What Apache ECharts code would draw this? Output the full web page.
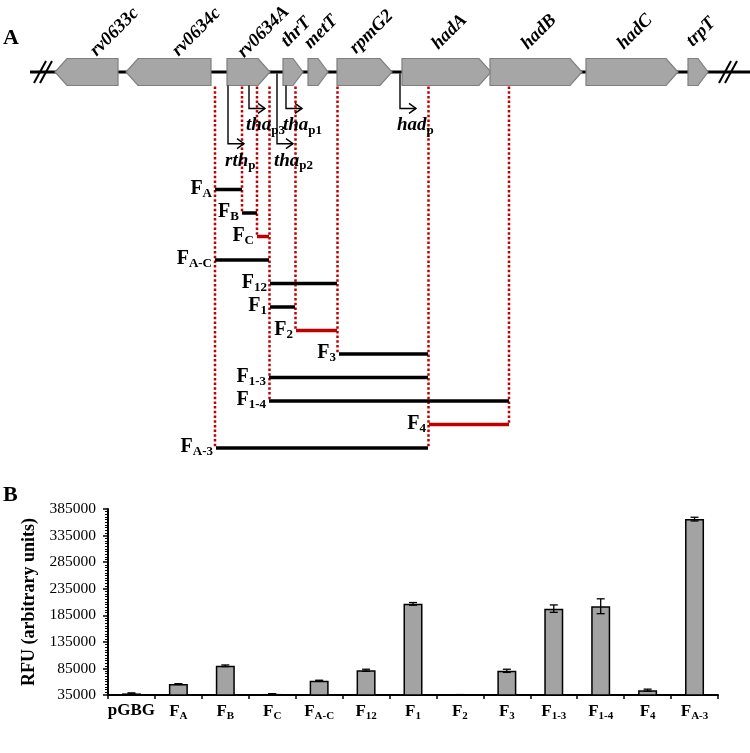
<!DOCTYPE html>
<html><head><meta charset="utf-8">
<script src="https://cdn.jsdelivr.net/npm/echarts@6/dist/echarts.min.js"></script>
<style>html,body{margin:0;padding:0;background:#fff}#c{width:750px;height:753px}</style>
</head><body><div id="c"></div>
<script>
const SERIF = "'Liberation Serif','Times New Roman',Times,serif";

// ---------- Panel A: locus map ----------
const geneNames  = ['rv0633c','rv0634c','rv0634A','thrT','metT','rpmG2','hadA','hadB','hadC','trpT'];
const geneStart  = [55,126,227,283,308,337,402,490,586,688];
const geneEnd    = [118,211,270,303,328,392,491,582,678,708];
const geneStrand = [-1,-1,1,1,1,1,1,1,1,1];
const TRACK = -5;
const locusSpan = [30, 750];
const breakPoints = [43, 728];

const promoterNames = ['rth','tha','tha','tha','had'];
const promoterSubs  = ['p','p3','p2','p1','p'];
const promoterPos   = [228,249,277,286,400];
const promoterLevel = [-1.95,-3.45,-1.95,-3.45,-3.45];
const promoterFromGene = [1,1,0,1,0];

const fragSub   = ['A','B','C','A-C','12','1','2','3','1-3','1-4','4','A-3'];
const fragStart = [215,242,257,215,270,270,296,339,269,269,429,216];
const fragEnd   = [242,257,269,269,337,295,337,428,428,509,509,428];
const fragRow   = [0,1,2,3,4,5,6,7,8,9,10,11];
const fragInactive = [0,0,1,0,0,0,1,0,0,0,1,0];

const boundaryPos = [215,242,257,269.5,295.5,337.5,428.5,509];
const boundaryRow = [11,1,2,9,6,7,11,10];

// ---------- Panel B: RFU bars ----------
const barMain = ['pGBG','F','F','F','F','F','F','F','F','F','F','F','F'];
const barSub  = ['','A','B','C','A-C','12','1','2','3','1-3','1-4','4','A-3'];
const rfuMean = [38000,55500,90000,37000,62000,81500,206500,35500,80500,197500,202000,44000,366000];
const rfuErr  = [1000,800,1500,500,800,2000,2500,300,3000,7000,14000,2000,3500];
const yMin = 35000, yMax = 385000, yStep = 50000;

const RED = '#c00000';
const HALF = 13.5;
const ROT = 45*Math.PI/180;

const chart = echarts.init(document.getElementById('c'));

const subRich = (mainSize, subSize, italic) => ({
  m: {fontSize: mainSize, fontWeight: 'bold', fontStyle: italic ? 'italic' : 'normal', fontFamily: SERIF, fill: '#000', color:'#000'},
  s: {fontSize: subSize, fontWeight: 'bold', fontFamily: SERIF, fill: '#000', color:'#000', padding: [Math.round(subSize*0.8),0,0,0]}
});

const option = {
  animation: false,
  backgroundColor: '#fff',
  graphic: [
    {type:'text', left:3, top:27, style:{text:'A', font:'bold 22px '+SERIF, fill:'#000'}},
    {type:'text', left:3, top:484, style:{text:'B', font:'bold 22px '+SERIF, fill:'#000'}}
  ],
  grid: [
    {left:0, width:750, top:48.5, height:423},
    {left:108, width:610, top:509, height:186}
  ],
  xAxis: [
    {gridIndex:0, type:'value', min:0, max:750, show:false},
    {gridIndex:1, type:'category', data: barMain.map((m,i)=>m+barSub[i]),
      axisLine:{lineStyle:{color:'#000', width:2}},
      axisTick:{show:true, length:4, lineStyle:{color:'#000', width:1.5}},
      axisLabel:{interval:0, margin:7, color:'#000',
        formatter:(v, i)=> barSub[i] ? '{m|'+barMain[i]+'}{s|'+barSub[i]+'}' : '{m|'+barMain[i]+'}',
        rich:{
          m:{fontSize:17, fontWeight:'bold', fontFamily:SERIF, color:'#000'},
          s:{fontSize:11, fontWeight:'bold', fontFamily:SERIF, color:'#000', padding:[9,0,0,0]}
        }}
    }
  ],
  yAxis: [
    {gridIndex:0, type:'value', min:-6, max:12, inverse:true, show:false},
    {gridIndex:1, type:'value', min:yMin, max:yMax, interval:yStep,
      axisLine:{show:true, lineStyle:{color:'#000', width:2}},
      axisTick:{show:true, length:5, lineStyle:{color:'#000', width:1.5}},
      minorTick:{show:true, splitNumber:10, length:3, lineStyle:{color:'#000', width:1}},
      splitLine:{show:false},
      axisLabel:{color:'#000', fontSize:15.5, fontFamily:SERIF, margin:12, formatter:v=>String(v)},
      name:'RFU (arbitrary units)', nameLocation:'middle', nameGap:60,
      nameTextStyle:{color:'#000', fontSize:18, fontWeight:'bold', fontFamily:SERIF}
    }
  ],
  series: [
    // backbone
    {type:'custom', xAxisIndex:0, yAxisIndex:0, data:[[locusSpan[0], locusSpan[1]]], silent:true, z:1, clip:false,
      renderItem:(p, api)=>{
        const a = api.coord([api.value(0), TRACK]), b = api.coord([api.value(1), TRACK]);
        return {type:'line', shape:{x1:a[0], y1:a[1], x2:b[0], y2:b[1]}, style:{stroke:'#000', lineWidth:3}};
      }},
    // break marks
    {type:'custom', xAxisIndex:0, yAxisIndex:0, data: breakPoints.map(x=>[x]), silent:true, z:3, clip:false,
      renderItem:(p, api)=>{
        const c = api.coord([api.value(0), TRACK]);
        const mk = dx => ({type:'line', shape:{x1:c[0]+dx-6, y1:c[1]+11, x2:c[0]+dx+6, y2:c[1]-11}, style:{stroke:'#000', lineWidth:2}});
        return {type:'group', children:[mk(-3), mk(3)]};
      }},
    // genes
    {type:'custom', xAxisIndex:0, yAxisIndex:0, silent:true, z:2, clip:false,
      data: geneNames.map((n,i)=>[geneStart[i], geneEnd[i], geneStrand[i]]),
      renderItem:(p, api)=>{
        const a = api.coord([api.value(0), TRACK]), b = api.coord([api.value(1), TRACK]);
        const x0 = a[0], x1 = b[0], y = a[1], dir = api.value(2);
        const head = Math.min(12, (x1-x0)*0.5);
        const pts = dir > 0
          ? [[x0,y-HALF],[x1-head,y-HALF],[x1,y],[x1-head,y+HALF],[x0,y+HALF]]
          : [[x1,y-HALF],[x0+head,y-HALF],[x0,y],[x0+head,y+HALF],[x1,y+HALF]];
        const cx = (x0+x1)/2;
        const name = geneNames[p.dataIndex];
        const lx = cx + (dir < 0 ? 28 : 3 + (name.length-4)*4);
        return {type:'group', children:[
          {type:'polygon', shape:{points:pts}, style:{fill:'#a6a6a6', stroke:'#7f7f7f', lineWidth:1.2}},
          {type:'text', x:lx, y:y-40, rotation:ROT,
            style:{text:name, fill:'#000', fontSize:18.5, fontStyle:'italic', fontWeight:'bold', fontFamily:SERIF, align:'center', verticalAlign:'middle'}}
        ]};
      }},
    // red dotted boundaries
    {type:'custom', xAxisIndex:0, yAxisIndex:0, silent:true, z:3,
      data: boundaryPos.map((x,i)=>[x, boundaryRow[i]]),
      renderItem:(p, api)=>{
        const a = api.coord([api.value(0), TRACK]), b = api.coord([api.value(0), api.value(1)]);
        return {type:'line', shape:{x1:a[0], y1:a[1]+HALF+1, x2:b[0], y2:b[1]},
          style:{stroke:RED, lineWidth:2.5, lineDash:[2.5,2.2]}};
      }},
    // promoters
    {type:'custom', xAxisIndex:0, yAxisIndex:0, silent:true, z:4,
      data: promoterPos.map((x,i)=>[x, promoterLevel[i], promoterFromGene[i]]),
      renderItem:(p, api)=>{
        const t = api.coord([api.value(0), TRACK]), c = api.coord([api.value(0), api.value(1)]);
        const y0 = t[1] + (api.value(2) ? HALF : 1.5);
        const tip = c[0] + 16;
        const st = {stroke:'#000', lineWidth:1.4, fill:null};
        const i = p.dataIndex;
        return {type:'group', children:[
          {type:'polyline', shape:{points:[[c[0], y0],[c[0], c[1]],[tip, c[1]]]}, style:st},
          {type:'polyline', shape:{points:[[tip-7, c[1]-5],[tip, c[1]],[tip-7, c[1]+5]]}, style:st},
          {type:'text', x:c[0]-3, y:c[1]+17,
            style:{text:'{m|'+promoterNames[i]+'}{s|'+promoterSubs[i]+'}', rich:subRich(19, 13, true), align:'left', verticalAlign:'middle'}}
        ]};
      }},
    // fragments
    {type:'custom', xAxisIndex:0, yAxisIndex:0, silent:true, z:5,
      data: fragStart.map((s,i)=>[s, fragEnd[i], fragRow[i], fragInactive[i]]),
      renderItem:(p, api)=>{
        const a = api.coord([api.value(0), api.value(2)]), b = api.coord([api.value(1), api.value(2)]);
        const col = api.value(3) ? RED : '#000';
        return {type:'group', children:[
          {type:'line', shape:{x1:a[0], y1:a[1], x2:b[0], y2:b[1]}, style:{stroke:col, lineWidth:3.5}},
          {type:'text', x:a[0]-3, y:a[1]-1,
            style:{text:'{m|F}{s|'+fragSub[p.dataIndex]+'}', rich:subRich(20, 13, false), align:'right', verticalAlign:'middle'}}
        ]};
      }},
    // bars
    {type:'bar', xAxisIndex:1, yAxisIndex:1, data: rfuMean, barWidth:19, z:2,
      itemStyle:{color:'#a3a3a3', borderColor:'#000', borderWidth:1.5}},
    // error bars
    {type:'custom', xAxisIndex:1, yAxisIndex:1, z:4,
      data: rfuMean.map((m,i)=>[i, m-rfuErr[i], m+rfuErr[i]]),
      renderItem:(p, api)=>{
        const a = api.coord([api.value(0), api.value(2)]), b = api.coord([api.value(0), api.value(1)]);
        const w = 4, st = {stroke:'#000', lineWidth:1.3};
        return {type:'group', children:[
          {type:'line', shape:{x1:a[0], y1:a[1], x2:b[0], y2:b[1]}, style:st},
          {type:'line', shape:{x1:a[0]-w, y1:a[1], x2:a[0]+w, y2:a[1]}, style:st},
          {type:'line', shape:{x1:b[0]-w, y1:b[1], x2:b[0]+w, y2:b[1]}, style:st}
        ]};
      }}
  ]
};
chart.setOption(option);
</script></body></html>
